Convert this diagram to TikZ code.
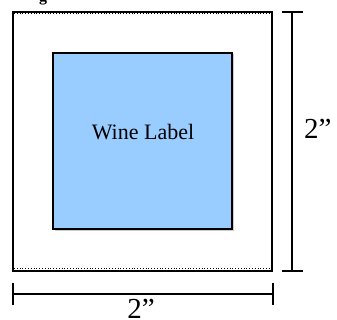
\documentclass[tikz,border=0pt]{standalone}
\usepackage{fontspec}
\setmainfont{Liberation Serif}
\usepackage{xcolor}
\usetikzlibrary{positioning}
\definecolor{labelblue}{RGB}{153,204,255}
\tikzstyle{sheet}=[draw=black, line width=2pt, minimum width=259pt, minimum height=259pt, inner sep=0pt]
\tikzstyle{winebox}=[draw=black, line width=1.5pt, fill=labelblue, minimum width=179pt, minimum height=176pt, inner sep=0pt]
\tikzstyle{dimline}=[line width=1.5pt]
\tikzstyle{dimtext}=[inner sep=0pt, font=\fontsize{29}{32}\selectfont]
\tikzset{>=latex}

\begin{document}
\begin{tikzpicture}[x=1pt, y=-1pt]
    \useasboundingbox (0, 0) rectangle (337, 320);

    \node at (43, 1.5) [anchor=base, font=\bfseries\fontsize{16}{18}\selectfont] (title) {g};

    \draw node at (142.5, 141.5) [sheet] (sheet) {};
    \draw [dotted, line width=0.8pt] ([xshift=2pt, yshift=-2.5pt]sheet.north west) -- ([xshift=-2pt, yshift=-2.5pt]sheet.north east);
    \draw [dotted, line width=0.8pt] ([xshift=2pt, yshift=4pt]sheet.south west) -- ([xshift=-2pt, yshift=4pt]sheet.south east);

    \fill [gray!40] (54.5, 54.5) rectangle (234, 231);
    \draw node at (142.5, 141) [winebox] (label) {};
    \node at (143, 140) [anchor=base, inner sep=0pt, font=\fontsize{22}{24}\selectfont] (labeltext) {Wine Label};

    % height
    \coordinate (htop) at (292, 12);
    \coordinate (hbot) at (292, 271);
    \draw [dimline] (htop) -- (hbot);
    \draw [dimline] ([xshift=-10pt]htop) -- ([xshift=11pt]htop);
    \draw [dimline] ([xshift=-10pt]hbot) -- ([xshift=11pt]hbot);
    \node at (304, 139) [anchor=base west, dimtext] (hlabel) {2”};

    % width
    \coordinate (wleft) at (13, 294);
    \coordinate (wright) at (273, 294);
    \draw [dimline] (wleft) -- (wright);
    \draw [dimline] ([yshift=11pt]wleft) -- ([yshift=-11pt]wleft);
    \draw [dimline] ([yshift=11pt]wright) -- ([yshift=-11pt]wright);
    \node at (141, 318) [anchor=base, dimtext] (wlabel) {2”};
\end{tikzpicture}
\end{document}
